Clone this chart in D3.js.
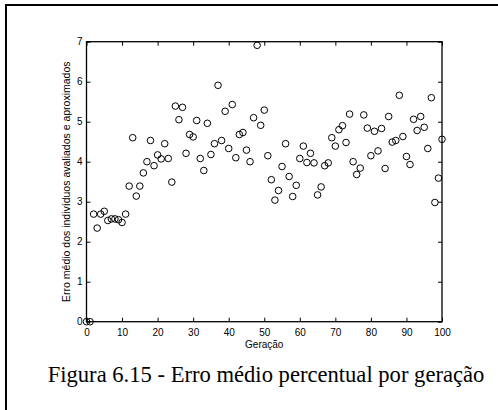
<!DOCTYPE html>
<html>
<head>
<meta charset="utf-8">
<script src="https://cdn.jsdelivr.net/npm/d3@7"></script>
<style>
  html, body { margin: 0; padding: 0; background: #fff; }
  svg { display: block; }
</style>
</head>
<body>
<script>
const generations = d3.range(0, 101);
const erroMedio = [
  0, 0, 2.69, 2.34, 2.69, 2.76, 2.53, 2.57, 2.57, 2.55,
  2.48, 2.69, 3.39, 4.60, 3.14, 3.39, 3.72, 4.00, 4.53, 3.90,
  4.17, 4.07, 4.45, 4.08, 3.49, 5.39, 5.05, 5.36, 4.21, 4.68,
  4.62, 5.03, 4.08, 3.78, 4.96, 4.18, 4.45, 5.91, 4.53, 5.26,
  4.33, 5.43, 4.10, 4.68, 4.73, 4.29, 4.00, 5.10, 6.91, 4.91,
  5.29, 4.15, 3.55, 3.04, 3.28, 3.88, 4.45, 3.63, 3.13, 3.41,
  4.08, 4.39, 3.98, 4.21, 3.97, 3.17, 3.37, 3.90, 3.97, 4.60,
  4.39, 4.80, 4.90, 4.48, 5.19, 4.00, 3.68, 3.84, 5.17, 4.84,
  4.15, 4.76, 4.27, 4.83, 3.83, 5.13, 4.49, 4.53, 5.66, 4.63,
  4.13, 3.93, 5.06, 4.78, 5.13, 4.86, 4.33, 5.60, 2.98, 3.59,
  4.56
];
const xTicks = [0, 10, 20, 30, 40, 50, 60, 70, 80, 90, 100];
const yTicks = [0, 1, 2, 3, 4, 5, 6, 7];
const xLabel = "Geração";
const yLabel = "Erro médio dos indivíduos avaliados e aproximados";
const caption = "Figura 6.15 - Erro médio percentual por geração";

(function () {
const W = 498, H = 410;
const svg = d3.select("body").append("svg").attr("width", W).attr("height", H);

// outer figure box
svg.append("rect")
  .attr("x", 6).attr("y", 5).attr("width", W + 20).attr("height", H + 20)
  .attr("fill", "none").attr("stroke", "#000").attr("stroke-width", 2);

const pLeft = 86.5, pRight = 442, pTop = 41.7, pBottom = 321.7;
const x = d3.scaleLinear().domain([0, 100]).range([pLeft, pRight]);
const y = d3.scaleLinear().domain([0, 7]).range([pBottom, pTop]);

const sans = "Liberation Sans, Arial, sans-serif";
const tickLen = 4;

const xAxis = svg.append("g").attr("transform", `translate(0,${pBottom})`)
  .call(d3.axisBottom(x).tickValues(xTicks).tickSize(-tickLen).tickPadding(7).tickFormat(d3.format("d")));
const yAxis = svg.append("g").attr("transform", `translate(${pLeft},0)`)
  .call(d3.axisLeft(y).tickValues(yTicks).tickSize(-tickLen).tickPadding(4).tickFormat(d3.format("d")));
const xTop = svg.append("g").attr("transform", `translate(0,${pTop})`)
  .call(d3.axisTop(x).tickValues(xTicks).tickSize(-tickLen).tickFormat(""));
const yRight = svg.append("g").attr("transform", `translate(${pRight},0)`)
  .call(d3.axisRight(y).tickValues(yTicks).tickSize(-tickLen).tickFormat(""));

[xAxis, yAxis, xTop, yRight].forEach(g => {
  g.select(".domain").remove();
  g.selectAll(".tick line").attr("stroke", "#000").attr("stroke-width", 1);
  g.selectAll("text").attr("fill", "#000").style("font-family", sans).style("font-size", "10px");
});

svg.append("rect")
  .attr("x", pLeft).attr("y", pTop).attr("width", pRight - pLeft).attr("height", pBottom - pTop)
  .attr("fill", "none").attr("stroke", "#000").attr("stroke-width", 1.3);

svg.append("g").selectAll("circle")
  .data(generations.map((g, i) => ({ g, v: erroMedio[i] })))
  .join("circle")
  .attr("cx", d => x(d.g)).attr("cy", d => y(d.v))
  .attr("r", 3.3)
  .attr("fill", "none").attr("stroke", "#000").attr("stroke-width", 1);

svg.append("text")
  .attr("x", x(50)).attr("y", 348)
  .attr("text-anchor", "middle")
  .style("font-family", sans).style("font-size", "10px")
  .text(xLabel);

svg.append("text")
  .attr("transform", `translate(70,${(pTop + pBottom) / 2}) rotate(-90)`)
  .attr("text-anchor", "middle")
  .style("font-family", sans).style("font-size", "10.5px")
  .text(yLabel);

svg.append("text")
  .attr("x", 266).attr("y", 382)
  .attr("text-anchor", "middle")
  .style("font-family", "Liberation Serif, 'Times New Roman', serif").style("font-size", "22.6px")
  .text(caption);
})();
</script>
</body>
</html>
